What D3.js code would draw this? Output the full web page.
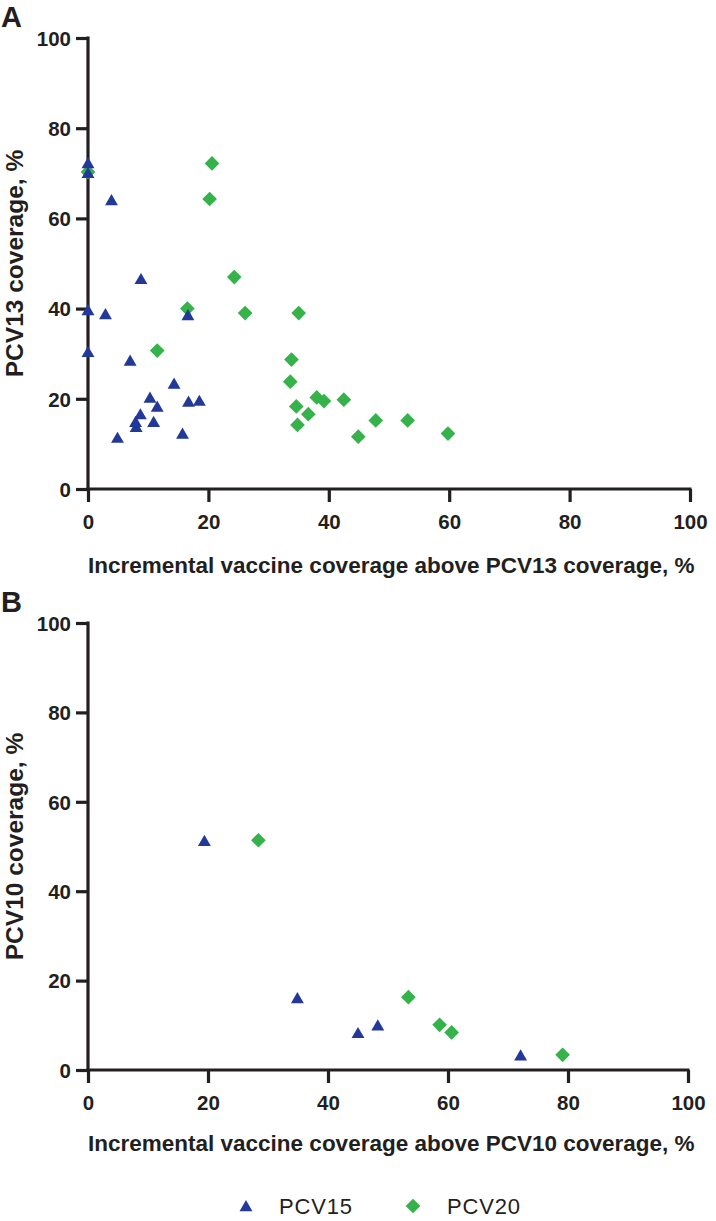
<!DOCTYPE html>
<html>
<head>
<meta charset="utf-8">
<script src="https://cdn.jsdelivr.net/npm/d3@7"></script>
<style>
html,body{margin:0;padding:0;background:#fff;}
svg{display:block;font-family:"Liberation Sans",Arial,Helvetica,sans-serif;}
</style>
</head>
<body>
<svg id="chart" width="716" height="1221"></svg>
<script>
// ---- Data ----
const ticks = [0, 20, 40, 60, 80, 100];
const seriesNames = ["PCV15", "PCV20"];

// Panel A: x = incremental coverage above PCV13, y = PCV13 coverage
const aPCV15x = [0, 0, 3.9, 8.8, 0, 2.9, 16.6, 0, 7.0, 14.3, 10.3, 16.7, 18.5, 11.5, 8.7, 7.9, 8.0, 10.9, 4.9, 15.7];
const aPCV15y = [72.3, 70.1, 64.1, 46.6, 39.7, 38.8, 38.6, 30.4, 28.5, 23.4, 20.3, 19.4, 19.6, 18.3, 16.6, 14.9, 13.8, 14.9, 11.4, 12.3];
const aPCV20x = [0, 20.6, 20.2, 24.3, 16.5, 11.5, 26.1, 35.0, 33.8, 33.6, 34.6, 34.8, 36.6, 38.0, 39.2, 42.5, 44.9, 47.8, 53.1, 59.8];
const aPCV20y = [70.3, 72.2, 64.3, 47.0, 40.0, 30.7, 39.0, 39.0, 28.7, 23.8, 18.3, 14.2, 16.6, 20.3, 19.5, 19.8, 11.6, 15.2, 15.2, 12.3];

// Panel B: x = incremental coverage above PCV10, y = PCV10 coverage
const bPCV15x = [19.4, 34.9, 45.0, 48.3, 72.1];
const bPCV15y = [51.3, 16.1, 8.3, 10.0, 3.3];
const bPCV20x = [28.4, 53.4, 58.6, 60.6, 79.1];
const bPCV20y = [51.4, 16.3, 10.1, 8.4, 3.4];

const colors = {PCV15: "#22399a", PCV20: "#35b24a"};
const ink = "#231f20";

const svg = d3.select("#chart");

const triangle = d3.symbol().type(d3.symbolTriangle).size(72);
const diamond = d3.symbol().type(d3.symbolSquare).size(108);

function drawPanel(cfg) {
  const x = d3.scaleLinear().domain([0, 100]).range([cfg.left, cfg.right]);
  const y = d3.scaleLinear().domain([0, 100]).range([cfg.bottom, cfg.top]);
  const g = svg.append("g");

  const xAxis = d3.axisBottom(x).tickValues(ticks).tickSize(13).tickSizeOuter(0).tickPadding(8);
  const yAxis = d3.axisLeft(y).tickValues(ticks).tickSize(12).tickSizeOuter(0).tickPadding(5);

  const gx = g.append("g").attr("transform", `translate(0,${cfg.bottom})`).call(xAxis);
  const gy = g.append("g").attr("transform", `translate(${cfg.left},0)`).call(yAxis);
  [gx, gy].forEach(a => {
    a.select(".domain").attr("stroke", ink).attr("stroke-width", 3.2);
    a.selectAll(".tick line").attr("stroke", ink).attr("stroke-width", 3.2);
    a.selectAll(".tick text").attr("fill", ink).attr("font-size", 20.5).attr("font-weight", "bold")
      .attr("font-family", '"Liberation Sans", Arial, sans-serif');
  });
  gx.selectAll(".tick text").attr("dy", "0.93em");
  gy.selectAll(".tick text").attr("dy", "0.36em");
  gx.select(".domain").attr("d", `M${cfg.left - 1.5},0H${cfg.right + 1.5}`);
  gy.select(".domain").attr("d", `M0,${cfg.top - 1.5}V${cfg.bottom + 1.5}`);

  g.append("text").attr("x", 1).attr("y", cfg.top - 11)
    .attr("font-size", 29).attr("font-weight", "bold").attr("fill", ink).text(cfg.panel);
  g.append("text").attr("x", cfg.left).attr("y", cfg.bottom + cfg.titleGap)
    .attr("text-anchor", "start").attr("font-size", 22.5).attr("font-weight", "bold")
    .attr("fill", ink).text(cfg.xTitle);
  g.append("text").attr("transform", `translate(23,${(cfg.top + cfg.bottom) / 2}) rotate(-90)`)
    .attr("text-anchor", "middle").attr("font-size", 24.5).attr("font-weight", "bold")
    .attr("fill", ink).text(cfg.yTitle);

  const d20 = cfg.x20.map((v, i) => ({x: v, y: cfg.y20[i]}));
  const d15 = cfg.x15.map((v, i) => ({x: v, y: cfg.y15[i]}));
  g.append("g").selectAll("path").data(d20).join("path")
    .attr("d", diamond)
    .attr("transform", d => `translate(${x(d.x)},${y(d.y)}) rotate(45)`)
    .attr("fill", colors.PCV20);
  g.append("g").selectAll("path").data(d15).join("path")
    .attr("d", triangle)
    .attr("transform", d => `translate(${x(d.x)},${y(d.y) + 1.5})`)
    .attr("fill", colors.PCV15);
}

drawPanel({panel: "A", left: 88, right: 690, top: 38, bottom: 489, titleGap: 84,
  xTitle: "Incremental vaccine coverage above PCV13 coverage, %",
  yTitle: "PCV13 coverage, %",
  x15: aPCV15x, y15: aPCV15y, x20: aPCV20x, y20: aPCV20y});

drawPanel({panel: "B", left: 88, right: 688, top: 623, bottom: 1070, titleGap: 81,
  xTitle: "Incremental vaccine coverage above PCV10 coverage, %",
  yTitle: "PCV10 coverage, %",
  x15: bPCV15x, y15: bPCV15y, x20: bPCV20x, y20: bPCV20y});

// legend
const leg = svg.append("g");
const legItems = [
  {name: seriesNames[0], sx: 246, tx: 279, shape: triangle, rot: 0},
  {name: seriesNames[1], sx: 413, tx: 447, shape: diamond, rot: 45}
];
const legY = 1206;
legItems.forEach(it => {
  leg.append("path").attr("d", it.shape)
    .attr("transform", `translate(${it.sx},${legY + (it.rot ? 0 : 1.5)}) rotate(${it.rot})`)
    .attr("fill", colors[it.name]);
  leg.append("text").attr("x", it.tx).attr("y", legY).attr("dy", "0.36em")
    .attr("font-size", 22).attr("fill", ink).attr("letter-spacing", 0.8).text(it.name);
});
</script>
</body>
</html>
